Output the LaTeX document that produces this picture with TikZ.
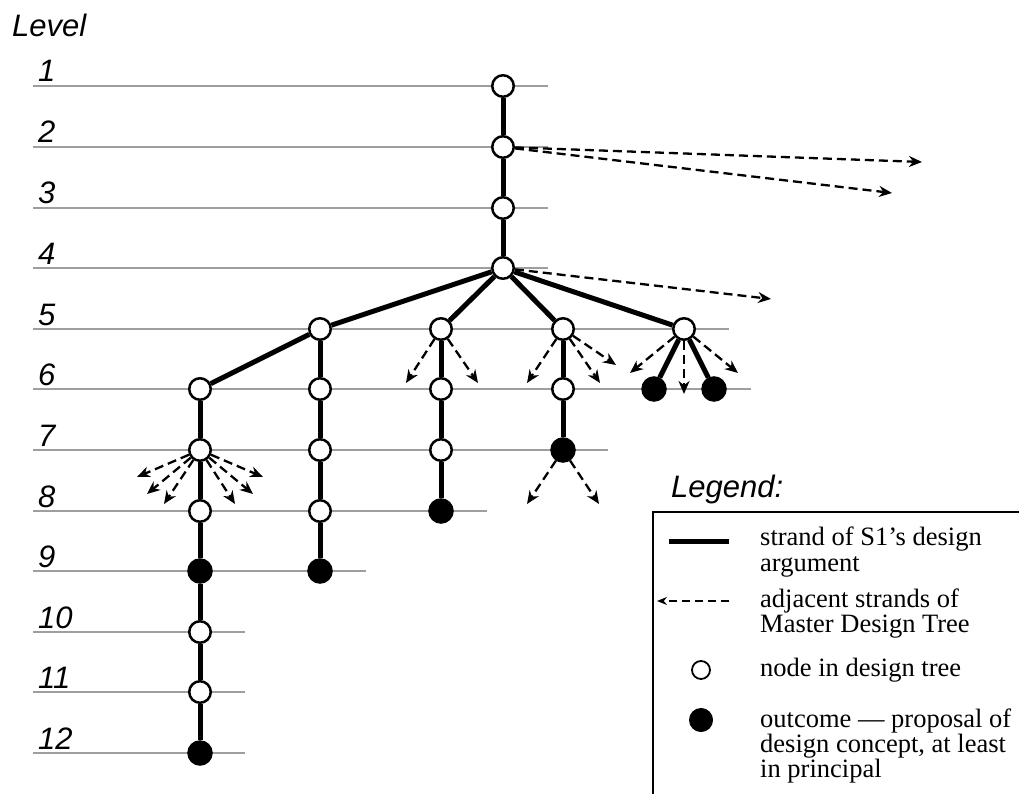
\documentclass[tikz,border=0pt]{standalone}
\usepackage{fontspec}
\setmainfont{Liberation Serif}
\newfontfamily\lvlfont{Liberation Sans}
\usetikzlibrary{arrows.meta}
\begin{document}
\begin{tikzpicture}[x=1pt,y=-1pt,
  levelline/.style={draw=black!38, line width=1.3pt},
  opennode/.style={circle, draw=black, fill=white, line width=2.5pt, minimum size=21.5pt, inner sep=0pt},
  outcome/.style={circle, draw=black, fill=black, line width=1pt, minimum size=24.5pt, inner sep=0pt},
  strand/.style={line width=5pt},
  adj/.style={line width=2.3pt, dash pattern=on 9pt off 5pt, -{Stealth[length=13pt,width=11pt]}},
  lvl/.style={font=\lvlfont\itshape\fontsize{31}{31}\selectfont, anchor=base west, inner sep=0pt},
  legtext/.style={font=\fontsize{26.5}{26.5}\selectfont, anchor=base west, inner sep=0pt}
]
\useasboundingbox (0,0) rectangle (1019,794);

% level rules and their numbers
\node[lvl] (levelhead) at (12,37) {Level};
\foreach \n/\y/\xr in {1/86/548, 2/147/548, 3/208/548, 4/268/548, 5/329/729,
                       6/389/751, 7/450/608, 8/511/487, 9/571/366, 10/632/245,
                       11/692/245, 12/753/245}{
  \draw[levelline] (33,\y) -- (\xr,\y);
  \node[lvl] (lv\n) at (38,\y-4) {\n};
}

% tree nodes
\node[opennode] (a1) at (503,86) {};
\node[opennode] (a2) at (503,147) {};
\node[opennode] (a3) at (503,208) {};
\node[opennode] (a4) at (503,268) {};
\node[opennode] (b1) at (320,329) {};
\node[opennode] (b2) at (441,329) {};
\node[opennode] (b3) at (563,329) {};
\node[opennode] (b4) at (684,329) {};
\node[opennode] (c1) at (200,389) {};
\node[opennode] (c2) at (320,389) {};
\node[opennode] (c3) at (441,389) {};
\node[opennode] (c4) at (563,389) {};
\node[outcome]  (c5) at (654,389) {};
\node[outcome]  (c6) at (714,389) {};
\node[opennode] (d1) at (200,450) {};
\node[opennode] (d2) at (320,450) {};
\node[opennode] (d3) at (441,450) {};
\node[outcome]  (d4) at (563,450) {};
\node[opennode] (e1) at (200,511) {};
\node[opennode] (e2) at (320,511) {};
\node[outcome]  (e3) at (441,511) {};
\node[outcome]  (f1) at (200,571) {};
\node[outcome]  (f2) at (320,571) {};
\node[opennode] (g1) at (200,632) {};
\node[opennode] (h1) at (200,692) {};
\node[outcome]  (i1) at (200,753) {};

% strands of the design argument
\foreach \p/\q in {a1/a2, a2/a3, a3/a4, a4/b1, a4/b2, a4/b3, a4/b4,
                   b1/c1, b1/c2, b2/c3, b3/c4, b4/c5, b4/c6,
                   c1/d1, c2/d2, c3/d3, c4/d4, d1/e1, d2/e2, d3/e3,
                   e1/f1, e2/f2, f1/g1, g1/h1, h1/i1}{
  \draw[strand] (\p) -- (\q);
}

% ends of the adjacent strands
\coordinate (ta2x) at (922,162);
\coordinate (ta2y) at (892,193);
\coordinate (ta4x) at (771,299);
\coordinate (tb2x) at (406,383);
\coordinate (tb2y) at (478,383);
\coordinate (tb3x) at (527,383);
\coordinate (tb3y) at (600,383);
\coordinate (tb3z) at (616,365);
\coordinate (tb4x) at (630,373);
\coordinate (tb4y) at (684,394);
\coordinate (tb4z) at (738,373);
\coordinate (td4x) at (527,504);
\coordinate (td4y) at (599,504);
\coordinate (td1a) at (137,477);
\coordinate (td1b) at (147,494);
\coordinate (td1c) at (164,504);
\coordinate (td1d) at (263,477);
\coordinate (td1e) at (253,494);
\coordinate (td1f) at (235,504);

\foreach \p/\t in {a2/ta2x, a2/ta2y, a4/ta4x, b2/tb2x, b2/tb2y,
                   b3/tb3x, b3/tb3y, b3/tb3z, b4/tb4x, b4/tb4y, b4/tb4z,
                   d4/td4x, d4/td4y, d1/td1a, d1/td1b, d1/td1c,
                   d1/td1d, d1/td1e, d1/td1f}{
  \draw[adj] (\p) -- (\t);
}

% legend
\node[lvl] (legtitle) at (671,497) {Legend:};
\draw[line width=2pt] (1019,512) -- (653,512) -- (653,794);

\coordinate (ls1) at (669,541);
\coordinate (ls2) at (729,541);
\draw[strand] (ls1) -- (ls2);
\coordinate (la1) at (729,601);
\coordinate (la2) at (657,601);
\draw[line width=1.8pt, dash pattern=on 8pt off 5pt, -{Stealth[length=10pt,width=8pt]}] (la1) -- (la2);
\node[opennode, line width=1.8pt, minimum size=18pt] (lopen) at (701,670) {};
\node[outcome, minimum size=23pt] (lfull) at (701,720) {};

\node[legtext] (lt1) at (760,545) {strand of S1’s design};
\node[legtext] (lt2) at (760,571) {argument};
\node[legtext] (lt3) at (760,607) {adjacent strands of};
\node[legtext] (lt4) at (760,632) {Master Design Tree};
\node[legtext] (lt5) at (760,676) {node in design tree};
\node[legtext] (lt6) at (760,727) {outcome — proposal of};
\node[legtext] (lt7) at (760,752) {design concept, at least};
\node[legtext] (lt8) at (760,777) {in principal};
\end{tikzpicture}
\end{document}
